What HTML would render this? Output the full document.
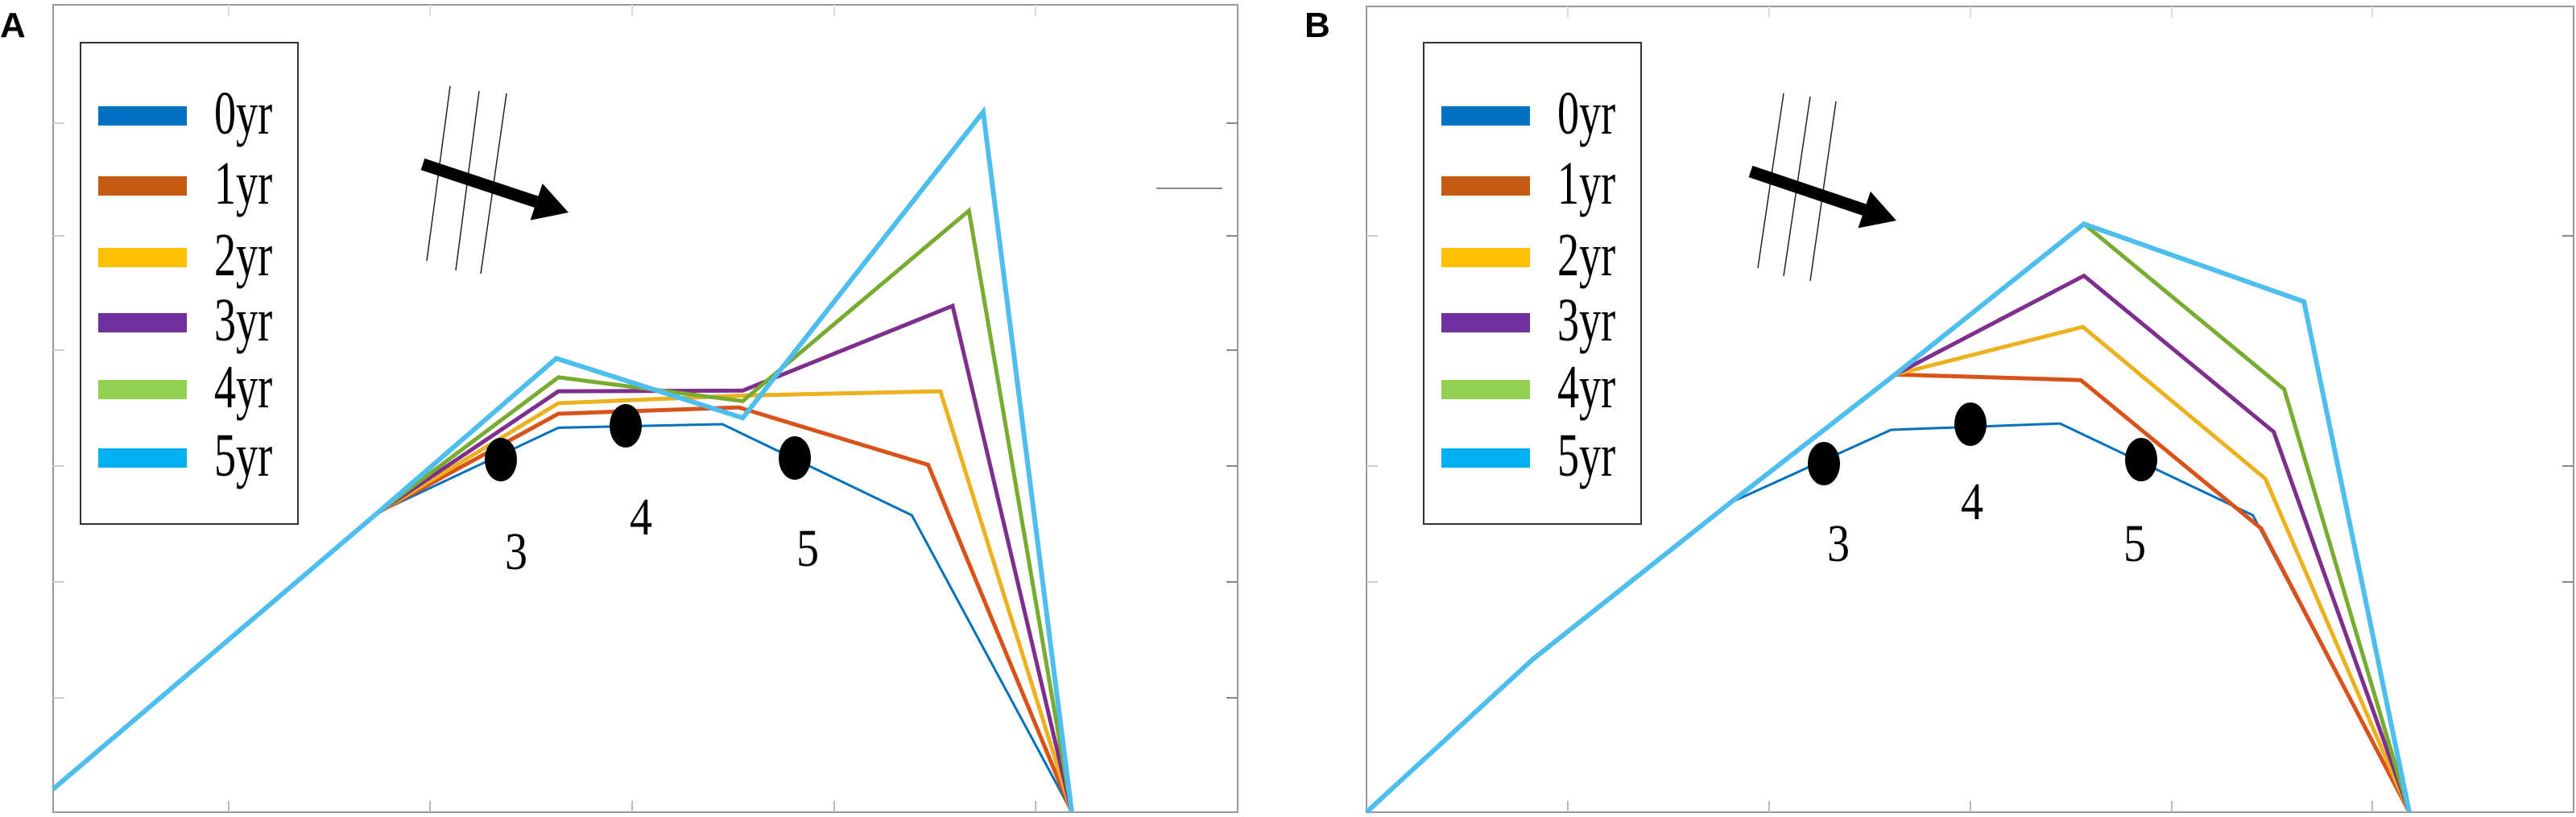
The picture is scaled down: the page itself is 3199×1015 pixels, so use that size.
<!DOCTYPE html>
<html><head><meta charset="utf-8">
<style>
html,body{margin:0;padding:0;background:#fff;}
svg{display:block;}
.lg{font-family:"Liberation Serif",serif;font-size:66px;}
.pl{font-family:"Liberation Sans",sans-serif;font-weight:bold;font-size:44px;}
</style></head>
<body>
<svg id="chart" width="3199" height="1015" viewBox="0 0 3199 1015" xmlns="http://www.w3.org/2000/svg"></svg>
<script>
const seriesNames = ["0yr","1yr","2yr","3yr","4yr","5yr"];
const lineColors = ["#0072BD","#D95319","#EDB120","#7E2F8E","#77AC30","#4DBEEE"];
const swatchColors = ["#0070C0","#C55A11","#FFC000","#7030A0","#92D050","#00B0F0"];
const lineWidths = [3,5,5,5,5,6];
// Panel A data (x: 0..100 stage position, y: 0..100 value)
const aX = [
 [0,31.9,49.6,65.7,84.3,100],
 [0,31.9,49.6,67.3,85.9,100],
 [0,31.9,49.6,67.7,87.1,100],
 [0,31.9,49.6,67.7,88.3,100],
 [0,31.9,49.6,67.7,89.9,100],
 [0,31.9,49.4,67.7,91.3,100]
];
const aY = [
 [3.3,42.8,54.9,55.4,42.4,0],
 [3.3,42.8,56.9,57.8,49.6,0],
 [3.3,42.8,58.4,59.5,60.1,0],
 [3.3,42.8,60.1,60.2,72.3,0],
 [3.3,42.8,62.1,58.7,85.9,0],
 [3.3,42.8,64.8,56.3,100,0]
];
// Panel B data
const bX = [
 [0,16,34.9,50.3,66.5,85,100],
 [0,16,34.9,50.7,68.5,85.8,100],
 [0,16,34.9,50.7,68.7,86.2,100],
 [0,16,34.9,50.7,68.8,87,100],
 [0,16,34.9,50.7,68.8,88,100],
 [0,16,34.9,50.7,68.8,89.9,100]
];
const bY = [
 [0,21.9,44.2,54.6,55.5,42.4,0],
 [0,21.9,44.2,62.5,61.7,40.5,0],
 [0,21.9,44.2,62.5,69.3,47.6,0],
 [0,21.9,44.2,62.5,76.6,54.3,0],
 [0,21.9,44.2,62.5,84,60.4,0],
 [0,21.9,44.2,62.5,84,72.9,0]
];
const stageLabels = ["3","4","5"];

const NS="http://www.w3.org/2000/svg";
const svg=document.getElementById('chart');
function mk(tag,attrs,parent){const e=document.createElementNS(NS,tag);for(const k in attrs)e.setAttribute(k,attrs[k]);(parent||svg).appendChild(e);return e;}

function panel(cfg){
  const g=mk('g',{});
  
  
  const sx=v=>cfg.x0+(cfg.x1-cfg.x0)*v/100;
  const sy=v=>1009-870*v/100;
  // frame
  const fr=mk('rect',{x:cfg.fl,y:cfg.ft,width:cfg.fr-cfg.fl,height:1009-cfg.ft,fill:'none',stroke:'#999','stroke-width':2},g);
  
  
  cfg.xt.forEach(t=>{
    const l=mk('line',{x1:t,x2:t,y1:1009,y2:995,stroke:'#bbb','stroke-width':2},g);
    
    
    const l2=mk('line',{x1:t,x2:t,y1:cfg.ft,y2:cfg.ft+14,stroke:'#ddd','stroke-width':2},g);
    
    
  });
  cfg.yt.forEach(t=>{
    const l=mk('line',{x1:cfg.fr-14,x2:cfg.fr,y1:t,y2:t,stroke:'#888','stroke-width':2},g);
    
    
    const l2=mk('line',{x1:cfg.fl,x2:cfg.fl+14,y1:t,y2:t,stroke:'#ccc','stroke-width':2},g);
    
    
  });
  // series
  for(let i=0;i<seriesNames.length;i++){
    const pts=cfg.X[i].map((v,j)=>sx(v)+','+sy(cfg.Y[i][j])).join(' ');
    const p=mk('polyline',{points:pts,fill:'none',stroke:lineColors[i],'stroke-width':lineWidths[i],'stroke-linejoin':'miter'},g);
    
    
  }
  // dots & labels
  cfg.dots.forEach((d,k)=>{
    const e=mk('ellipse',{cx:d[0],cy:d[1],rx:20,ry:27,fill:'#000'},g);
    
    
    const t=mk('text',{x:cfg.labs[k][0],y:cfg.labs[k][1],'text-anchor':'middle',class:'lg',transform:'translate('+cfg.labs[k][0]+',0) scale(0.85,1) translate('+(-cfg.labs[k][0])+',0)'},g);
    t.textContent=stageLabels[k];
    
    
  });
  // hatch lines
  cfg.hatch.forEach(h=>{
    const l=mk('line',{x1:h[0],y1:h[1],x2:h[2],y2:h[3],stroke:'#222','stroke-width':1.5},g);
    
    
  });
  // arrow
  const a=cfg.arrow;
  const dx=a[2]-a[0],dy=a[3]-a[1],L=Math.hypot(dx,dy),ux=dx/L,uy=dy/L,nx=-uy,ny=ux;
  const hb=[a[2]-ux*42,a[3]-uy*42];
  const ag=mk('g',{},g);
  
  
  mk('line',{x1:a[0],y1:a[1],x2:hb[0],y2:hb[1],stroke:'#000','stroke-width':15},ag);
  mk('polygon',{points:`${a[2]},${a[3]} ${hb[0]+nx*24},${hb[1]+ny*24} ${hb[0]-nx*24},${hb[1]-ny*24}`,fill:'#000'},ag);
  // legend
  const lg=mk('g',{},g);
  
  
  mk('rect',{x:cfg.lx,y:53,width:270,height:598,fill:'#fff',stroke:'#333','stroke-width':2},lg);
  const ys=[144,231,320,401,484,569];
  for(let i=0;i<6;i++){
    const e=mk('g',{},lg);
    
    
    mk('rect',{x:cfg.lx+22,y:ys[i]-12,width:110,height:24,fill:swatchColors[i]},e);
    const tx=cfg.lx+166;
    const t=mk('text',{x:tx,y:ys[i]+22,class:'lg',transform:`translate(${tx},0) scale(0.82,1.15) translate(${-tx},0)`},e);
    t.setAttribute('transform',`matrix(0.82,0,0,1.15,${tx*0.18},${-(ys[i]+22)*0.15})`);
    t.textContent=seriesNames[i];
  }
  const pl=mk('text',{x:cfg.plx,y:46,class:'pl'},g);
  pl.textContent=cfg.id.toUpperCase();
  
  
}

panel({id:'a',fl:66,fr:1537,ft:6,x0:66,x1:1331,X:aX,Y:aY,
  xt:[284,534,785,1036,1286],yt:[153,293,435,579,723,867],
  dots:[[622,571],[777,529],[987,569]],labs:[[641,707],[796,664],[1003,703]],
  hatch:[[559,107,530,324],[595,113,566,336],[629,116,597,340]],
  arrow:[525,204,706,264],lx:100,plx:0});
panel({id:'b',fl:1697,fr:3196,ft:8,x0:1697,x1:2992,X:bX,Y:bY,
  xt:[1947,2197,2447,2697,2946],yt:[293,579,723],
  dots:[[2265,576],[2447,527],[2659,571]],labs:[[2283,697],[2449,645],[2651,697]],
  hatch:[[2215,116,2183,333],[2248,120,2215,343],[2280,126,2248,349]],
  arrow:[2174,213,2355,274],lx:1768,plx:1620});
const gs=mk('line',{x1:1436,x2:1518,y1:234,y2:234,stroke:'#888','stroke-width':2});


</script>
</body></html>
